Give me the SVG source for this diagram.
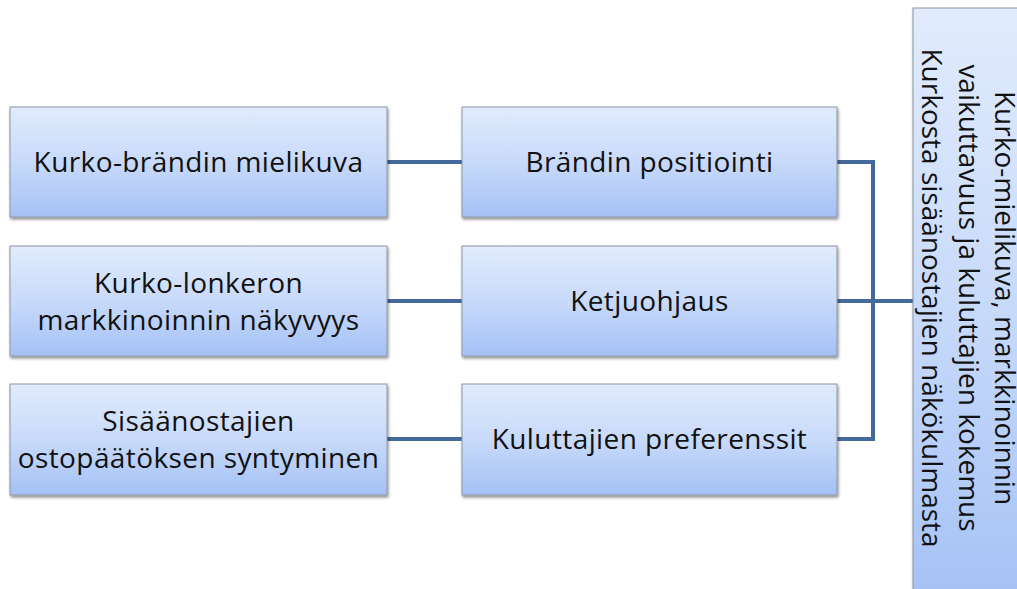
<svg xmlns="http://www.w3.org/2000/svg" width="1017" height="589" viewBox="0 0 1017 589">
<defs>
<linearGradient id="g" x1="0" y1="0" x2="0" y2="1">
<stop offset="0" stop-color="#e1ebfc"/>
<stop offset="0.5" stop-color="#c8dafa"/>
<stop offset="1" stop-color="#a4c1f5"/>
</linearGradient>
<filter id="sh" x="-10%" y="-10%" width="120%" height="130%">
<feGaussianBlur in="SourceAlpha" stdDeviation="1.5"/>
<feOffset dx="1" dy="2" result="b"/>
<feComponentTransfer><feFuncA type="linear" slope="0.45"/></feComponentTransfer>
<feMerge><feMergeNode/><feMergeNode in="SourceGraphic"/></feMerge>
</filter>
</defs>
<style>
.box{fill:url(#g);stroke:#8c96a3;stroke-width:1;filter:url(#sh)}
.t{font-family:"Open Sans","Liberation Sans",sans-serif;font-size:28px;letter-spacing:0.4px;fill:#111;text-anchor:middle}
.v{letter-spacing:0}
.c{fill:none;stroke:#44699b;stroke-width:4}
</style>
<rect width="1017" height="589" fill="#fff"/>
<g id="connectors">
<path class="c" d="M387 162 H462"/>
<path class="c" d="M387 301 H462"/>
<path class="c" d="M387 439 H462"/>
<path class="c" d="M837 162 H873 V439 H837"/>
<path class="c" d="M837 301 H913"/>
</g>
<g id="n1"><rect class="box" x="10" y="107" width="377" height="110"/><text class="t" x="198.5" y="172">Kurko-brändin mielikuva</text></g>
<g id="n2"><rect class="box" x="10" y="246" width="377" height="110"/><text class="t" x="198.5" y="293">Kurko-lonkeron</text><text class="t" x="198.5" y="330">markkinoinnin näkyvyys</text></g>
<g id="n3"><rect class="box" x="10" y="384" width="377" height="111"/><text class="t" x="198.5" y="431">Sisäänostajien</text><text class="t" x="198.5" y="468">ostopäätöksen syntyminen</text></g>
<g id="n4"><rect class="box" x="462" y="107" width="375" height="110"/><text class="t" x="649.5" y="172">Brändin positiointi</text></g>
<g id="n5"><rect class="box" x="462" y="246" width="375" height="110"/><text class="t" x="649.5" y="311">Ketjuohjaus</text></g>
<g id="n6"><rect class="box" x="462" y="384" width="375" height="111"/><text class="t" x="649.5" y="449">Kuluttajien preferenssit</text></g>
<g id="n7"><rect class="box" x="913" y="8" width="120" height="600"/>
<g transform="translate(965 298) rotate(90)">
<text class="t v" x="0" y="-29.5">Kurko-mielikuva, markkinoinnin</text>
<text class="t v" x="0" y="6.5">vaikuttavuus ja kuluttajien kokemus</text>
<text class="t v" x="0" y="43">Kurkosta sisäänostajien näkökulmasta</text>
</g></g>
</svg>
